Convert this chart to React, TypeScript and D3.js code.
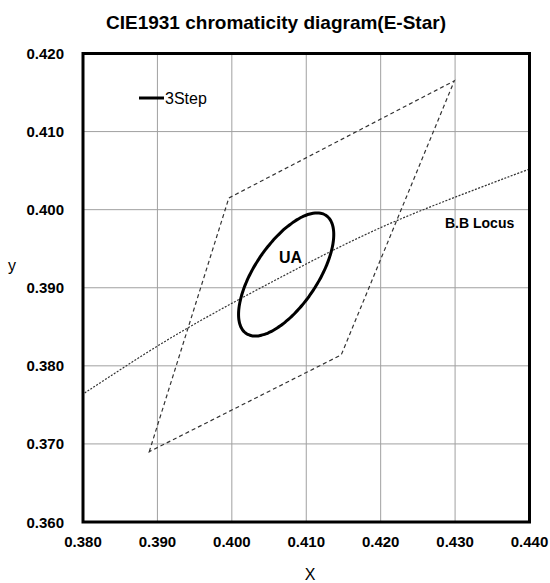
import React from "react";
import * as d3 from "d3";

const title = "CIE1931 chromaticity diagram(E-Star)";
const xTicks = [0.38, 0.39, 0.4, 0.41, 0.42, 0.43, 0.44];
const yTicks = [0.36, 0.37, 0.38, 0.39, 0.4, 0.41, 0.42];

// ANSI 3500K quadrangle corners (x, y)
const quadX = [0.3889, 0.3996, 0.4299, 0.4147];
const quadY = [0.369, 0.4015, 0.4165, 0.3814];

// Planckian (black body) locus points
const locusX = [0.372, 0.3805, 0.3922, 0.4053, 0.42, 0.4369, 0.4438];
const locusY = [0.3713, 0.3767, 0.3838, 0.3907, 0.3977, 0.4041, 0.4065];

// Ellipse parameters (center x, center y, a, b, angle deg)
const ellipseCenter = [0.4073, 0.3917];
const ellipseAxes = [0.00927, 0.00414];
const ellipseAngle = 54;

const legendLabel = "3Step";

export default function App() {
  const W = 550, H = 583;
  const x = d3.scaleLinear().domain([0.38, 0.44]).range([83, 529.5]);
  const y = d3.scaleLinear().domain([0.36, 0.42]).range([522, 53.5]);

  const line = d3.line<[number, number]>().x((d) => x(d[0])).y((d) => y(d[1]));
  const quadPts: [number, number][] = quadX.map((v, i) => [v, quadY[i]]);
  const quadPath = line(quadPts) + "Z";
  const locusPath = d3
    .line<[number, number]>()
    .x((d) => x(d[0]))
    .y((d) => y(d[1]))
    .curve(d3.curveCatmullRom)(locusX.map((v, i) => [v, locusY[i]]));

  const th = (ellipseAngle * Math.PI) / 180;
  const ePts: [number, number][] = d3.range(0, 361, 3).map((deg) => {
    const t = (deg * Math.PI) / 180;
    const ex = ellipseAxes[0] * Math.cos(t);
    const ey = ellipseAxes[1] * Math.sin(t);
    return [
      ellipseCenter[0] + ex * Math.cos(th) - ey * Math.sin(th),
      ellipseCenter[1] + ex * Math.sin(th) + ey * Math.cos(th),
    ];
  });
  const ellipsePath = line.curve(d3.curveCardinalClosed)(ePts);

  const font = "Arial, 'Liberation Sans', sans-serif";
  const [x0, x1] = x.range();
  const [y0, y1] = y.range();

  return (
    <svg
      width={W}
      height={H}
      style={{ position: "absolute", left: 0, top: 0, background: "#fff" }}
      fontFamily={font}
    >
      <defs>
        <clipPath id="plotClip">
          <rect x={x0} y={y1} width={x1 - x0} height={y0 - y1} />
        </clipPath>
      </defs>
      <rect x={0} y={0} width={W} height={H} fill="#fff" />
      <text x={276} y={28.5} textAnchor="middle" fontSize={19} fontWeight="bold" fill="#000">
        {title}
      </text>
      {/* grid */}
      {xTicks.slice(1, -1).map((t) => (
        <line key={"gx" + t} x1={x(t)} x2={x(t)} y1={y1} y2={y0} stroke="#a0a0a0" strokeWidth={1} />
      ))}
      {yTicks.slice(1, -1).map((t) => (
        <line key={"gy" + t} x1={x0} x2={x1} y1={y(t)} y2={y(t)} stroke="#a0a0a0" strokeWidth={1} />
      ))}
      <g clipPath="url(#plotClip)">
        <path d={locusPath || ""} fill="none" stroke="#333" strokeWidth={1.2} strokeDasharray="2,1.5" />
        <path d={quadPath} fill="none" stroke="#333" strokeWidth={1.2} strokeDasharray="4,3" />
        <path d={ellipsePath || ""} fill="none" stroke="#000" strokeWidth={3} />
      </g>
      <rect x={x0} y={y1} width={x1 - x0} height={y0 - y1} fill="none" stroke="#000" strokeWidth={3} />
      {/* ticks labels */}
      {yTicks.map((t) => (
        <text key={"ty" + t} x={64} y={y(t) + 5.5} textAnchor="end" fontSize={15} fontWeight="bold" fill="#000">
          {t.toFixed(3)}
        </text>
      ))}
      {xTicks.map((t) => (
        <text key={"tx" + t} x={x(t)} y={546.5} textAnchor="middle" fontSize={15} fontWeight="bold" fill="#000">
          {t.toFixed(3)}
        </text>
      ))}
      <text x={310} y={580} textAnchor="middle" fontSize={16} fill="#000">X</text>
      <text x={12} y={271} textAnchor="middle" fontSize={16} fill="#000">y</text>
      {/* annotations */}
      <text x={290.5} y={263} textAnchor="middle" fontSize={16} fontWeight="bold" fill="#000">UA</text>
      <text x={445} y={228} fontSize={14} fontWeight="bold" fill="#000">B.B Locus</text>
      {/* legend */}
      <line x1={139} x2={164} y1={98} y2={98} stroke="#000" strokeWidth={3} />
      <text x={165} y={104} fontSize={16} fill="#000">{legendLabel}</text>
    </svg>
  );
}
